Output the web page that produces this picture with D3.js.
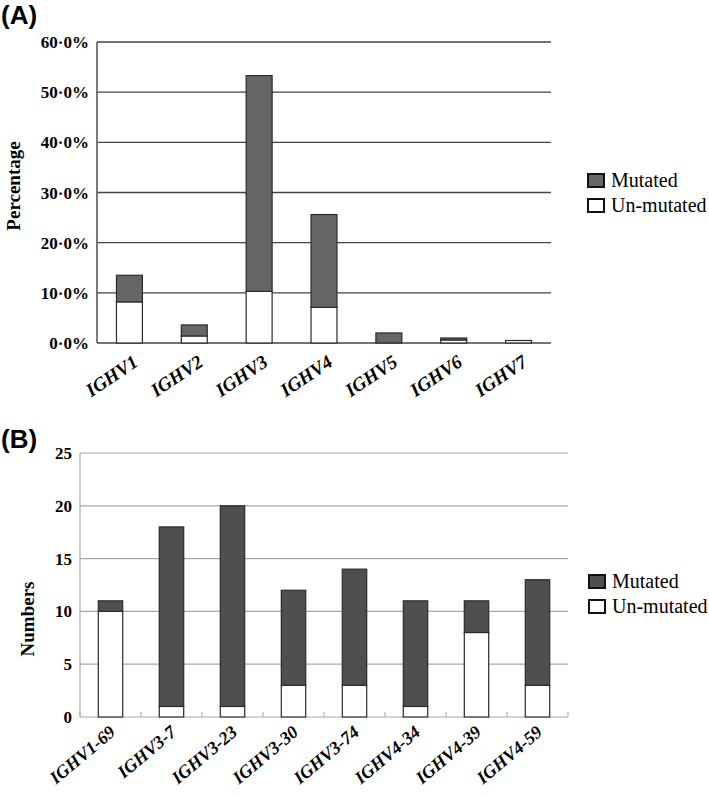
<!DOCTYPE html>
<html lang="en">
<head>
<meta charset="UTF-8"/>
<script src="https://d3js.org/d3.v7.min.js"></script>
<style>
  body { margin: 0; background: #fff; }
</style>
</head>
<body>
<svg width="709" height="797"></svg>
<script>
// panel A - IGHV families, percentage
const famCats = ["IGHV1", "IGHV2", "IGHV3", "IGHV4", "IGHV5", "IGHV6", "IGHV7"];
const famUnmut = [8.2, 1.4, 10.3, 7.1, 0.0, 0.6, 0.5];
const famMut = [5.3, 2.2, 43.0, 18.5, 2.0, 0.4, 0.0];
const famTicks = [0, 10, 20, 30, 40, 50, 60];

// panel B - individual genes, counts
const geneCats = ["IGHV1-69", "IGHV3-7", "IGHV3-23", "IGHV3-30", "IGHV3-74", "IGHV4-34", "IGHV4-39", "IGHV4-59"];
const geneUnmut = [10, 1, 1, 3, 3, 1, 8, 3];
const geneMut = [1, 17, 19, 9, 11, 10, 3, 10];
const geneTicks = [0, 5, 10, 15, 20, 25];

const legendNames = ["Mutated", "Un-mutated"];

const serif = "Liberation Serif";
const svg = d3.select("svg");

function panel(o) {
  const rows = o.cats.map((c, i) => ({cat: c, un: o.un[i], mut: o.mut[i]}));
  const stack = d3.stack().keys(["un", "mut"])(rows);

  const x = d3.scaleBand().domain(o.cats).range([o.x0, o.x1]).paddingInner(0.6).paddingOuter(0.3);
  const y = d3.scaleLinear().domain([0, d3.max(o.ticks)]).range([o.y0, o.y1]);

  const g = svg.append("g");

  // grid
  g.selectAll(".grid").data(o.ticks).enter().append("line")
    .attr("x1", o.x0).attr("x2", o.x1)
    .attr("y1", d => y(d)).attr("y2", d => y(d))
    .attr("stroke", o.gridColor).attr("stroke-width", o.gridW);

  // left axis line
  g.append("line").attr("x1", o.x0).attr("x2", o.x0)
    .attr("y1", o.y0).attr("y2", o.y1)
    .attr("stroke", o.gridColor).attr("stroke-width", o.gridW);

  // category tick marks (panel B)
  if (o.catTicks) {
    const bounds = d3.range(o.cats.length + 1).map(i => o.x0 + i * (o.x1 - o.x0) / o.cats.length);
    g.selectAll(".ctick").data(bounds).enter().append("line")
      .attr("x1", d => d).attr("x2", d => d)
      .attr("y1", o.y0).attr("y2", o.y0 - 5)
      .attr("stroke", o.gridColor).attr("stroke-width", 1);
  }

  // bars
  const colors = {un: "#ffffff", mut: o.barColor};
  stack.forEach(s => {
    g.selectAll(".bar-" + s.key).data(s).enter().append("rect")
      .attr("x", d => x(d.data.cat))
      .attr("width", x.bandwidth())
      .attr("y", d => y(d[1]))
      .attr("height", d => y(d[0]) - y(d[1]))
      .attr("fill", colors[s.key])
      .attr("stroke", d => (d[1] - d[0]) > 0 ? "#2a2a2a" : "none")
      .attr("stroke-width", 1.2);
  });

  // y tick labels
  g.selectAll(".ylab").data(o.ticks).enter().append("text")
    .attr("x", o.x0 - 8).attr("y", d => y(d) + 6)
    .attr("text-anchor", "end")
    .attr("font-family", serif).attr("font-weight", "bold").attr("font-size", 17)
    .text(o.fmt);

  // x tick labels
  g.selectAll(".xlab").data(o.cats).enter().append("text")
    .attr("transform", d => `translate(${x(d) + x.bandwidth() / 2 + o.lblDx},${o.y0 + o.lblDy}) rotate(${o.angle})`)
    .attr("text-anchor", "end")
    .attr("font-family", serif).attr("font-weight", "bold").attr("font-style", "italic").attr("font-size", o.lblSize)
    .text(d => d);

  // y title
  g.append("text")
    .attr("transform", `translate(${o.titleX},${o.titleY}) rotate(-90)`)
    .attr("text-anchor", "middle")
    .attr("font-family", serif).attr("font-weight", "bold").attr("font-size", 19)
    .text(o.title);

  // panel letter
  g.append("text").attr("x", 1).attr("y", o.letterY)
    .attr("font-family", "Liberation Sans").attr("font-weight", "bold").attr("font-size", 26)
    .text(o.letter);

  // legend
  const lg = g.append("g").attr("transform", `translate(${o.legX},${o.legY})`);
  legendNames.forEach((n, i) => {
    lg.append("rect").attr("x", 0).attr("y", i * 25).attr("width", 16).attr("height", 13)
      .attr("fill", i === 0 ? o.barColor : "#fff").attr("stroke", "#111").attr("stroke-width", 2);
    lg.append("text").attr("x", 23).attr("y", i * 25 + 13)
      .attr("font-family", serif).attr("font-size", 20)
      .text(n);
  });
}

panel({
  cats: famCats, un: famUnmut, mut: famMut, ticks: famTicks,
  x0: 97, x1: 551, y0: 343, y1: 42,
  gridColor: "#444", gridW: 1.4, barColor: "#666",
  fmt: d => d + "\u00b70%",
  lblDx: 10, lblDy: 22, angle: -34, lblSize: 19,
  title: "Percentage", titleX: 20, titleY: 186,
  letter: "(A)", letterY: 24,
  legX: 588, legY: 174, catTicks: false
});

panel({
  cats: geneCats, un: geneUnmut, mut: geneMut, ticks: geneTicks,
  x0: 80, x1: 568, y0: 717, y1: 453,
  gridColor: "#a8a8a8", gridW: 1.2, barColor: "#4f4f4f",
  fmt: d => d,
  lblDx: 6, lblDy: 17, angle: -40, lblSize: 18,
  title: "Numbers", titleX: 34, titleY: 619,
  letter: "(B)", letterY: 448,
  legX: 589, legY: 575, catTicks: true
});
</script>
</body>
</html>
